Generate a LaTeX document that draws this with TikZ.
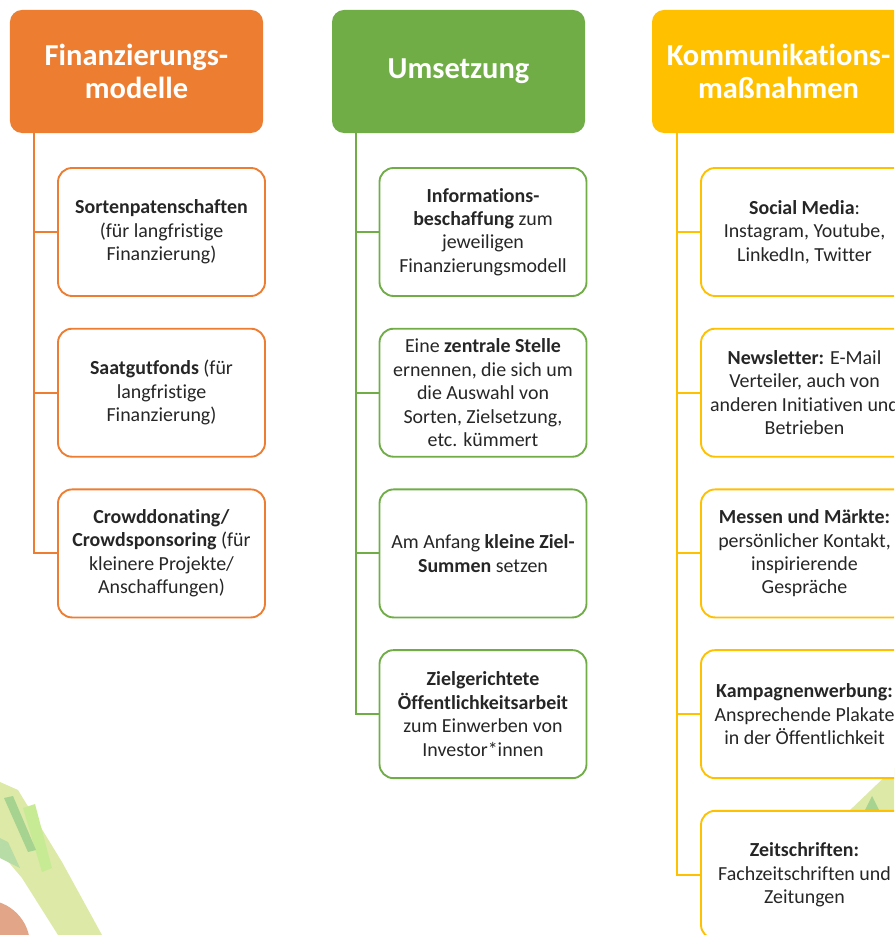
\documentclass[tikz,border=0pt]{standalone}
\usepackage{fontspec}
\setmainfont{Carlito}[RawFeature={-liga;-clig;-dlig;-calt}]
\usepackage{xcolor}
\usepackage{tikz}
\usetikzlibrary{positioning}

\definecolor{orng}{HTML}{ED7D31}
\definecolor{grn}{HTML}{70AD47}
\definecolor{gld}{HTML}{FFC000}
\definecolor{txt}{HTML}{262626}
\definecolor{leek}{HTML}{DDE9A6}
\definecolor{leaf}{HTML}{A6D38F}
\definecolor{onion}{HTML}{E2A587}

\begin{document}
\begin{tikzpicture}[
  x=0.03cm, y=-0.03cm,
  head/.style = {rectangle, rounded corners=0.36cm, fill=#1, text=white,
                 minimum width=7.59cm, minimum height=3.69cm,
                 align=center, font=\fontsize{26}{27.5}\selectfont\bfseries},
  item/.style = {rectangle, rounded corners=0.42cm, draw=#1, line width=1.6pt,
                 fill=white, text=txt,
                 minimum width=6.21cm, minimum height=3.84cm,
                 align=center, font=\fontsize{17}{20}\selectfont},
  link/.style = {draw=#1, line width=1.7pt},
  gap/.style  = {below=0.925cm of #1},
]

\useasboundingbox (0,0) rectangle (894,935);
\clip (0,0) rectangle (894,935);

% leek and onion in the corners
\fill[onion] (-15,945) circle (45);
\fill[leek] (0,782) -- (18,790) -- (62,862) -- (102,935)
  -- (58,935) -- (22,878) -- (0,852) -- cycle;
\fill[leek!90!green] (23,808) -- (35,804) -- (52,868) -- (42,872) -- cycle;
\fill[leaf] (4,798) -- (13,796) -- (36,850) -- (28,852) -- cycle;
\fill[leaf!80] (0,838) -- (8,842) -- (20,868) -- (0,858) -- cycle;
\fill[leek] (848,812) -- (894,768) -- (894,812) -- cycle;
\fill[leaf] (864,812) -- (872,796) -- (880,812) -- cycle;

% column headers
\node[head=orng] (fin) at (136.5,71.5) {Finanzierungs-\\modelle};
\node[head=grn]  (ums) at (458.5,71.5) {Umsetzung};
\node[head=gld]  (kom) at (778.5,71.5) {Kommunikations-\\maßnahmen};

% Finanzierungsmodelle
\node[item=orng] (fin1) at (161.5,232)
  {\textbf{Sortenpatenschaften}\\(für langfristige\\Finanzierung)};
\node[item=orng, gap=fin1] (fin2)
  {\textbf{Saatgutfonds} (für\\langfristige\\Finanzierung)};
\node[item=orng, gap=fin2] (fin3)
  {\textbf{Crowddonating/}\\\textbf{Crowdsponsoring} (für\\kleinere Projekte/\\Anschaffungen)};

% Umsetzung
\node[item=grn] (ums1) at (483,232)
  {\textbf{Informations-}\\\textbf{beschaffung} zum\\jeweiligen\\Finanzierungsmodell};
\node[item=grn, gap=ums1] (ums2)
  {Eine \textbf{zentrale Stelle}\\ernennen, die sich um\\die Auswahl von\\Sorten, Zielsetzung,\\etc. kümmert};
\node[item=grn, gap=ums2] (ums3)
  {Am Anfang \textbf{kleine Ziel-}\\\textbf{Summen} setzen};
\node[item=grn, gap=ums3] (ums4)
  {\textbf{Zielgerichtete}\\\textbf{Öffentlichkeitsarbeit}\\zum Einwerben von\\Investor*innen};

% Kommunikationsmassnahmen
\node[item=gld] (kom1) at (804.5,232)
  {\textbf{Social Media}:\\Instagram, Youtube,\\LinkedIn, Twitter};
\node[item=gld, gap=kom1] (kom2)
  {\textbf{Newsletter:} E-Mail\\Verteiler, auch von\\anderen Initiativen und\\Betrieben};
\node[item=gld, gap=kom2] (kom3)
  {\textbf{Messen und Märkte:}\\persönlicher Kontakt,\\inspirierende\\Gespräche};
\node[item=gld, gap=kom3] (kom4)
  {\textbf{Kampagnenwerbung:}\\Ansprechende Plakate\\in der Öffentlichkeit};
\node[item=gld, gap=kom4] (kom5)
  {\textbf{Zeitschriften:}\\Fachzeitschriften und\\Zeitungen};

% trunk start below each header
\coordinate (finT) at ([xshift=0.72cm]fin.south west);
\coordinate (umsT) at ([xshift=0.72cm]ums.south west);
\coordinate (komT) at ([xshift=0.75cm]kom.south west);

\draw[link=orng] (finT) |- (fin1.west);
\draw[link=orng] (finT) |- (fin2.west);
\draw[link=orng] (finT) |- (fin3.west);

\draw[link=grn] (umsT) |- (ums1.west);
\draw[link=grn] (umsT) |- (ums2.west);
\draw[link=grn] (umsT) |- (ums3.west);
\draw[link=grn] (umsT) |- (ums4.west);

\draw[link=gld] (komT) |- (kom1.west);
\draw[link=gld] (komT) |- (kom2.west);
\draw[link=gld] (komT) |- (kom3.west);
\draw[link=gld] (komT) |- (kom4.west);
\draw[link=gld] (komT) |- (kom5.west);

\end{tikzpicture}
\end{document}
